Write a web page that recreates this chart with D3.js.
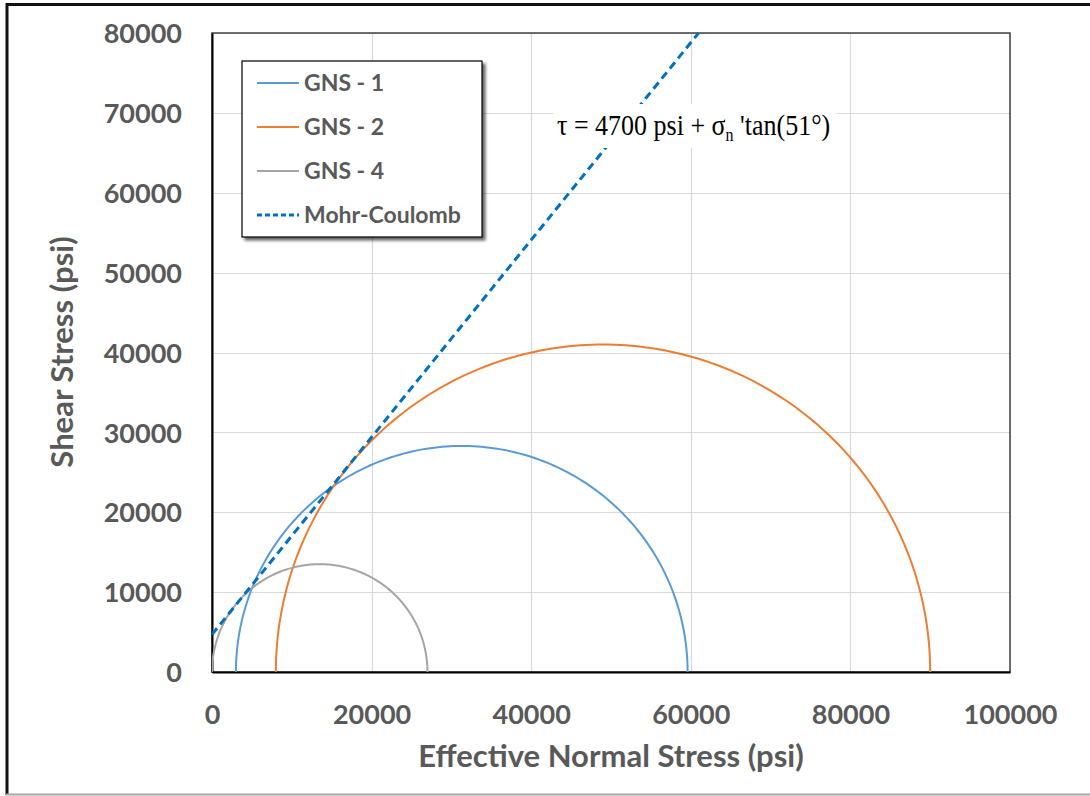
<!DOCTYPE html>
<html>
<head>
<meta charset="utf-8">
<script src="https://cdn.jsdelivr.net/npm/d3@7"></script>
<style>
  html, body { margin: 0; padding: 0; background: #fff; }
  svg { display: block; }
</style>
</head>
<body>
<svg id="chart" width="1090" height="796"></svg>
<script>
// Mohr circles for three samples: minimum and maximum effective principal stresses (psi)
const samples = ["GNS - 1", "GNS - 2", "GNS - 4"];
const sigma3 = [3000, 8000, 0];
const sigma1 = [59600, 90000, 27000];
const sampleColors = ["#5B9BD5", "#ED7D31", "#A5A5A5"];

// Mohr-Coulomb failure envelope
const cohesion = 4700;      // psi
const frictionAngle = 51;   // degrees
const envelopeLabel = "Mohr-Coulomb";
const envelopeColor = "#0070C0";

// Axis ticks
const xTicks = [0, 20000, 40000, 60000, 80000, 100000];
const yTicks = [0, 10000, 20000, 30000, 40000, 50000, 60000, 70000, 80000];

const svg = d3.select("#chart");
const W = 1090, H = 796;
const plot = { left: 212, right: 1010, top: 33, bottom: 672 };

const x = d3.scaleLinear().domain([0, 100000]).range([plot.left, plot.right]);
const y = d3.scaleLinear().domain([0, 80000]).range([plot.bottom, plot.top]);

const labelFont = "Lato, 'Open Sans', sans-serif";
const textGray = "#595959";

// outer frame
svg.append("line").attr("x1", 6).attr("x2", W).attr("y1", 4.5).attr("y2", 4.5)
  .attr("stroke", "#111").attr("stroke-width", 3);
svg.append("line").attr("x1", 7).attr("x2", 7).attr("y1", 3).attr("y2", 795)
  .attr("stroke", "#111").attr("stroke-width", 3);
svg.append("line").attr("x1", 6).attr("x2", W).attr("y1", 794.5).attr("y2", 794.5)
  .attr("stroke", "#a6a6a6").attr("stroke-width", 2);

// gridlines
const grid = svg.append("g");
grid.selectAll("line.gy").data(yTicks.filter(d => d > 0)).join("line")
  .attr("x1", plot.left).attr("x2", plot.right)
  .attr("y1", d => Math.round(y(d)) + 0.5).attr("y2", d => Math.round(y(d)) + 0.5)
  .attr("stroke", "#d9d9d9").attr("stroke-width", 1.2);
grid.selectAll("line.gx").data(xTicks.filter(d => d > 0)).join("line")
  .attr("y1", plot.top).attr("y2", plot.bottom)
  .attr("x1", d => Math.round(x(d)) + 0.5).attr("x2", d => Math.round(x(d)) + 0.5)
  .attr("stroke", "#d9d9d9").attr("stroke-width", 1.2);

// plot frame
svg.append("rect").attr("x", plot.left).attr("y", plot.top)
  .attr("width", plot.right - plot.left).attr("height", plot.bottom - plot.top)
  .attr("fill", "none").attr("stroke", "#404040").attr("stroke-width", 1.5);

// axes (left and bottom in black)
const xAxis = svg.append("g").attr("transform", `translate(0,${plot.bottom})`)
  .call(d3.axisBottom(x).tickValues(xTicks).tickSize(0).tickFormat(d3.format("d")));
xAxis.select(".domain").attr("stroke", "#000").attr("stroke-width", 2);
xAxis.selectAll("text").attr("dy", 0).attr("y", 52)
  .style("font-family", labelFont).style("font-weight", 700).style("font-size", "27px")
  .attr("fill", textGray);

const yAxis = svg.append("g").attr("transform", `translate(${plot.left},0)`)
  .call(d3.axisLeft(y).tickValues(yTicks).tickSize(0).tickFormat(d3.format("d")));
yAxis.select(".domain").attr("stroke", "#000").attr("stroke-width", 2);
yAxis.selectAll("text").attr("x", -30).attr("dy", "0.36em")
  .style("font-family", labelFont).style("font-weight", 700).style("font-size", "27px")
  .attr("fill", textGray);

// axis titles
svg.append("text").attr("x", 611).attr("y", 767)
  .attr("text-anchor", "middle").attr("fill", textGray)
  .style("font-family", labelFont).style("font-weight", 700).style("font-size", "31px")
  .text("Effective Normal Stress (psi)");
svg.append("text").attr("transform", `translate(73,${352}) rotate(-90)`)
  .attr("text-anchor", "middle").attr("fill", textGray)
  .style("font-family", labelFont).style("font-weight", 700).style("font-size", "31px")
  .text("Shear Stress (psi)");

// clip for marks
svg.append("clipPath").attr("id", "plotClip").append("rect")
  .attr("x", plot.left).attr("y", plot.top - 2)
  .attr("width", plot.right - plot.left).attr("height", plot.bottom - plot.top + 2);
const marks = svg.append("g").attr("clip-path", "url(#plotClip)");

// Mohr semicircles
const line = d3.line().x(d => x(d[0])).y(d => y(d[1]));
const angles = d3.range(0, 181, 1).map(a => a * Math.PI / 180);
samples.forEach((name, i) => {
  const c = (sigma1[i] + sigma3[i]) / 2, r = (sigma1[i] - sigma3[i]) / 2;
  const pts = angles.map(t => [c - r * Math.cos(t), r * Math.sin(t)]);
  marks.append("path").attr("d", line(pts)).attr("fill", "none")
    .attr("stroke", sampleColors[i]).attr("stroke-width", 2);
});

// failure envelope: tau = c + sigma * tan(phi)
const tanPhi = Math.tan(frictionAngle * Math.PI / 180);
const sigmaEnd = (80000 - cohesion) / tanPhi;
marks.append("path")
  .attr("d", line([[0, cohesion], [sigmaEnd, cohesion + sigmaEnd * tanPhi]]))
  .attr("fill", "none").attr("stroke", envelopeColor).attr("stroke-width", 3)
  .attr("stroke-dasharray", "8,5");

// envelope equation
const eqG = svg.append("g");
eqG.append("rect").attr("x", 553).attr("y", 104).attr("width", 284).attr("height", 44).attr("fill", "#fff");
const eq = eqG.append("text")
  .attr("transform", "translate(557,135) scale(1,1.12)")
  .style("font-family", "'Liberation Serif', 'Times New Roman', serif").style("font-size", "26px")
  .attr("fill", "#000");
eq.append("tspan").text("\u03C4 = 4700 psi + \u03C3");
eq.append("tspan").attr("dy", 5).style("font-size", "16px").text("n");
eq.append("tspan").attr("dy", -5).text(" 'tan(51\u00B0)");

// legend
const lg = svg.append("g");
const defs = svg.append("defs");
const f = defs.append("filter").attr("id", "shadow").attr("x", "-10%").attr("y", "-10%")
  .attr("width", "130%").attr("height", "130%");
f.append("feGaussianBlur").attr("in", "SourceAlpha").attr("stdDeviation", 1.5).attr("result", "b");
f.append("feOffset").attr("in", "b").attr("dx", 3).attr("dy", 3).attr("result", "o");
f.append("feComponentTransfer").attr("in", "o").attr("result", "s")
  .append("feFuncA").attr("type", "linear").attr("slope", 0.6);
const fm = f.append("feMerge");
fm.append("feMergeNode").attr("in", "s");
fm.append("feMergeNode").attr("in", "SourceGraphic");

lg.append("rect").attr("x", 242).attr("y", 61).attr("width", 240).attr("height", 176)
  .attr("fill", "#fff").attr("stroke", "#000").attr("stroke-width", 1.2)
  .attr("filter", "url(#shadow)");

const legendItems = samples.map((s, i) => ({ label: s, color: sampleColors[i], dash: null }))
  .concat([{ label: envelopeLabel, color: envelopeColor, dash: "5,3" }]);
const rowY = d3.scalePoint().domain(d3.range(legendItems.length)).range([83, 215]);
legendItems.forEach((d, i) => {
  const yy = rowY(i);
  lg.append("line").attr("x1", 257).attr("x2", 299).attr("y1", yy).attr("y2", yy)
    .attr("stroke", d.color).attr("stroke-width", d.dash ? 3 : 2)
    .attr("stroke-dasharray", d.dash);
  lg.append("text").attr("x", 304).attr("y", yy).attr("dy", "0.35em")
    .attr("fill", textGray).style("font-family", labelFont).style("font-weight", 700)
    .style("font-size", "23px").text(d.label);
});
</script>
</body>
</html>
